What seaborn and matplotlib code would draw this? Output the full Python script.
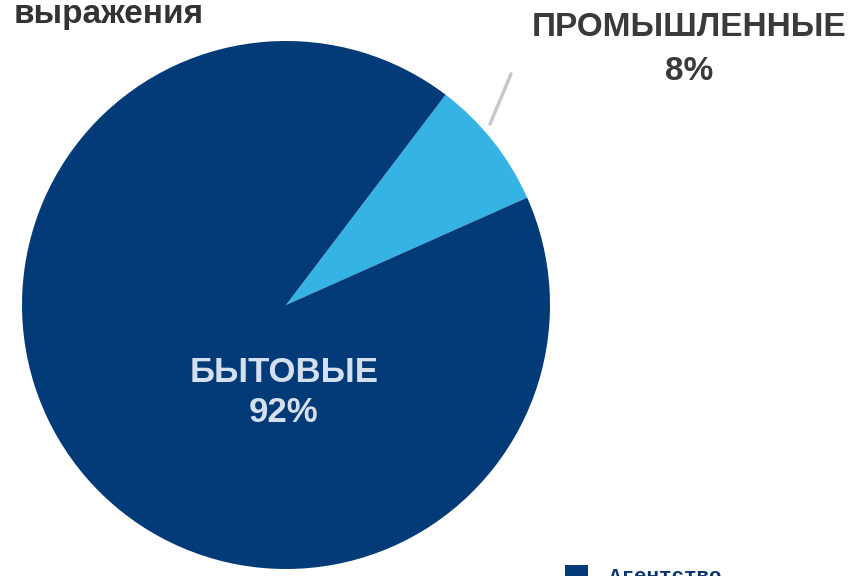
import seaborn as sns
import matplotlib.pyplot as plt

# data
categories = ['ПРОМЫШЛЕННЫЕ', 'БЫТОВЫЕ']
shares = [8, 92]
colors = ['#35b3e5', '#033b78']
legend_labels = ['Агентство']

sns.set_style('white')
plt.rcParams['font.family'] = ['Liberation Sans', 'DejaVu Sans']

fig = plt.figure(figsize=(8.52, 5.76), dpi=100)
ax = fig.add_axes([0, 0, 1, 1])

wedges, _ = ax.pie(shares, colors=colors, startangle=24, counterclock=True,
                   center=(286, 271), radius=264, frame=False,
                   wedgeprops={'linewidth': 0})
ax.set_xlim(0, 852)
ax.set_ylim(0, 576)
ax.set_aspect('equal')
ax.axis('off')

# title (top of the page is cut in the reference)
ax.text(14, 553, 'выражения', fontsize=24, fontweight='bold', color='#333333',
        ha='left', va='baseline')

# label for small slice with leader line
ax.plot([490, 511], [576 - 124, 576 - 74], color='#c8c8c8', lw=2.5, solid_capstyle='round')
ax.text(689, 548, categories[0], fontsize=24, fontweight='bold', color='#3a3a3a',
        ha='center', va='center')
ax.text(689, 504, f'{shares[0]}%', fontsize=24, fontweight='bold', color='#3a3a3a',
        ha='center', va='center')

# label inside big slice
ax.text(284, 203, categories[1], fontsize=25, fontweight='bold', color='#d5e0ee',
        ha='center', va='center')
ax.text(284, 163, f'{shares[1]}%', fontsize=25, fontweight='bold', color='#d5e0ee',
        ha='center', va='center')

# legend at the bottom, cut off by the edge
leg = ax.legend([wedges[1]], legend_labels, loc='upper left',
                bbox_to_anchor=(565 / 852, 11 / 576), frameon=False,
                borderaxespad=0, borderpad=0,
                handlelength=1.1, handleheight=1.1, handletextpad=1.0,
                prop={'family': 'Liberation Mono', 'size': 15, 'weight': 'bold'})
for t in leg.get_texts():
    t.set_color('#0b3470')

fig.savefig('out.png', dpi=100)
